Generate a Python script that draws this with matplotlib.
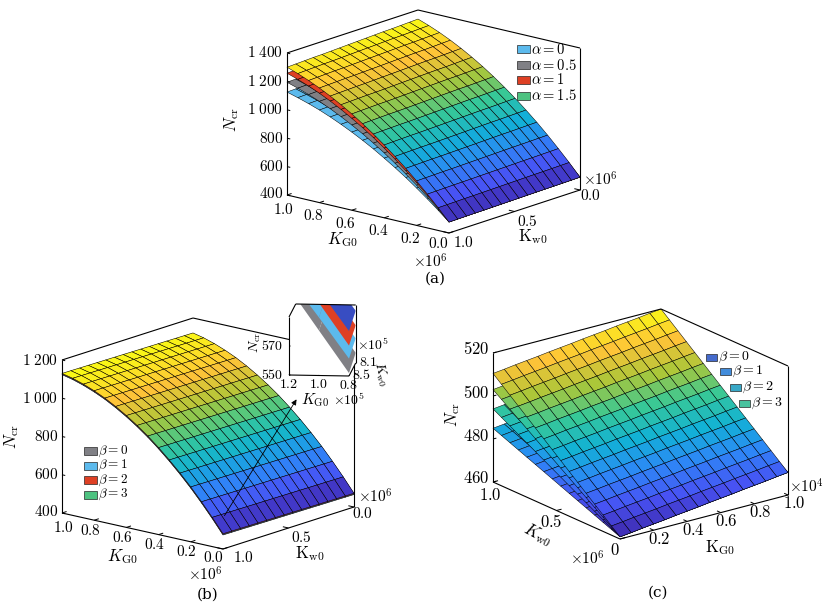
import numpy as np
import matplotlib
matplotlib.use("Agg")
import matplotlib.pyplot as plt
from matplotlib.colors import LinearSegmentedColormap, Normalize
from matplotlib.patches import Rectangle, FancyArrowPatch, Polygon
from matplotlib.path import Path
from matplotlib.transforms import IdentityTransform

plt.rcParams["mathtext.fontset"] = "cm"
plt.rcParams["font.family"] = ["DejaVu Serif"]

W, H = 827, 607

# ============================ DATA ============================
# ---- panel (a): K_G0 (x1e6), K_w0 (x1e6), four alpha values ----
kg_a = np.linspace(0.0, 1.0, 16)
kw_a = np.linspace(0.0, 1.0, 16)
alpha_labels = ["0", "0.5", "1", "1.5"]
# N_cr along K_G0 (0 ... 1) at K_w0 = 1
ncr_a_alpha0 = [477, 542, 604, 663, 719, 771, 820, 867, 910, 950, 987, 1021, 1052, 1079, 1103, 1125]
ncr_a_alpha05 = [477, 549, 617, 683, 744, 802, 857, 908, 956, 1000, 1041, 1079, 1113, 1143, 1170, 1194]
ncr_a_alpha1 = [477, 556, 630, 701, 768, 831, 891, 947, 999, 1047, 1092, 1133, 1170, 1203, 1232, 1258]
ncr_a_alpha15 = [477, 560, 638, 713, 784, 850, 913, 972, 1027, 1078, 1125, 1168, 1207, 1242, 1273, 1300]
# relative change of N_cr along K_w0 (0 ... 1)
kw_factor_a = [1.028, 1.026, 1.024, 1.022, 1.021, 1.019, 1.017, 1.015,
               1.013, 1.011, 1.009, 1.007, 1.006, 1.004, 1.002, 1.000]

# ---- panel (b): K_G0 (x1e6), K_w0 (x1e6), four beta values ----
kg_b = np.linspace(0.0, 1.0, 16)
kw_b = np.linspace(0.0, 1.0, 16)
beta_labels = ["0", "1", "2", "3"]
# N_cr along K_G0 (0 ... 1) at K_w0 = 0, beta = 3
ncr_b_beta3 = [472, 545, 614, 679, 739, 795, 847, 895, 938, 977, 1012, 1043, 1069, 1091, 1109, 1122]
# change of N_cr along K_w0 (0 ... 1)
kw_shift_b = [0, 0.5, 1.1, 1.6, 2.1, 2.7, 3.2, 3.7, 4.3, 4.8, 5.3, 5.9, 6.4, 6.9, 7.5, 8.0]
# offset of beta = 0, 1, 2, 3 surfaces relative to beta = 3
beta_gap_b = [-7, -5, -2.5, 0]
# inset of (b): K_G0 (x1e5), K_w0 (x1e5)
kg_inset = [0.8, 1.0, 1.2]
kw_inset = [8.1, 8.5]
ncr_inset_beta0 = [552, 581, 610]   # at K_w0 = 8.5e5
ncr_inset_beta1 = [562, 590, 617]
ncr_inset_beta2 = [571, 600, 628]
ncr_inset_beta3 = [581, 609, 636]
kw_shift_inset = [5, 0]             # change along K_w0 (8.1e5, 8.5e5)

# ---- panel (c): K_G0 (x1e4), K_w0 (x1e6), four beta values ----
kg_c = np.linspace(0.0, 1.0, 16)
kw_c = np.linspace(0.0, 1.0, 16)
# N_cr along K_w0 (0 ... 1) at K_G0 = 0
ncr_c_beta0 = [461, 462.6, 464.2, 465.8, 467.4, 469, 470.6, 472.2, 473.8, 475.4, 477, 478.6, 480.2, 481.8, 483.4, 485]
ncr_c_beta1 = [461, 463.2, 465.4, 467.6, 469.8, 472, 474.2, 476.4, 478.6, 480.8, 483, 485.2, 487.4, 489.6, 491.8, 494]
ncr_c_beta2 = [461, 463.8, 466.6, 469.4, 472.2, 475, 477.8, 480.6, 483.4, 486.2, 489, 491.8, 494.6, 497.4, 500.2, 503]
ncr_c_beta3 = [461, 464.3, 467.6, 470.9, 474.2, 477.5, 480.8, 484.1, 487.4, 490.7, 494, 497.3, 500.6, 503.9, 507.2, 510.5]
# increase of N_cr along K_G0 (0 ... 1)
kg_shift_c = [0, 0.6, 1.3, 1.9, 2.5, 3.2, 3.8, 4.4, 5.1, 5.7, 6.3, 7.0, 7.6, 8.2, 8.9, 9.5]

# ticks
ticks_k = [0.0, 0.2, 0.4, 0.6, 0.8, 1.0]
ticks_kw = [0.0, 0.5, 1.0]
ticks_z_a = [400, 600, 800, 1000, 1200, 1400]
ticks_z_b = [400, 600, 800, 1000, 1200]
ticks_z_c = [460, 480, 500, 520]
ticks_kg_c = [0.2, 0.4, 0.6, 0.8, 1.0]
ticks_z_in = [550, 570]

# ============================ STYLE ============================
PARULA = LinearSegmentedColormap.from_list("parula", [
    (0.2422, 0.1504, 0.6603), (0.2810, 0.3228, 0.9579), (0.1786, 0.5289, 0.9682),
    (0.0689, 0.6948, 0.8394), (0.2161, 0.7843, 0.5923), (0.6720, 0.7793, 0.2227),
    (0.9970, 0.7659, 0.2199), (0.9769, 0.9839, 0.0805)])
C_LBLUE = (0.36, 0.73, 0.93)
C_GRAY = (0.50, 0.50, 0.52)
C_RED = (0.87, 0.25, 0.14)
C_GREEN = (0.30, 0.76, 0.50)
C_DBLUE = (0.22, 0.30, 0.76)

fig = plt.figure(figsize=(W / 100, H / 100), dpi=100)


def solve_view(dx, dy, hz):
    """view angles / box aspect from image-pixel vectors of the +x and +y box edges"""
    dxr, dxu = dx[0], -dx[1]
    dyr, dyu = dy[0], -dy[1]
    A = -dyu / dyr
    B = dxr / dxu
    t = np.sign(B) * np.sqrt(A * B)
    se = A / t
    elev = np.degrees(np.arcsin(se))
    at = abs(t)
    s = np.sign(-dxr) * at / np.sqrt(1 + at ** 2)
    c = np.sign(dyr) / np.sqrt(1 + at ** 2)
    azim = np.degrees(np.arctan2(s, c))
    return elev, azim, (-dxr / s, dyr / c, hz / np.cos(np.radians(elev)))


def make_ax(view, xlim, ylim, zlim):
    elev, azim, aspect = view
    ax = fig.add_axes([0.3, 0.3, 0.4, 0.4 * W / H], projection="3d", computed_zorder=False)
    ax.set_proj_type("ortho")
    ax.view_init(elev=elev, azim=azim)
    ax.set_box_aspect(aspect)
    ax.set_xlim(xlim)
    ax.set_ylim(ylim)
    ax.set_zlim(zlim)
    ax.set_axis_off()
    ax.patch.set_visible(False)
    return ax


def to_disp(ax, x, y, z):
    M = ax.get_proj()
    v = M @ np.array([x, y, z, 1.0])
    return ax.transData.transform((v[0] / v[3], v[1] / v[3]))


def fit(ax, pts3d, pix):
    bb = ax.bbox
    cx0, cy0, s0 = (bb.x0 + bb.x1) / 2, (bb.y0 + bb.y1) / 2, bb.width
    Am, bm = [], []
    for p, (px, py) in zip(pts3d, pix):
        d = to_disp(ax, *p)
        qx, qy = (d[0] - cx0) / s0, (d[1] - cy0) / s0
        Am.append([1, 0, qx]); bm.append(px)
        Am.append([0, 1, qy]); bm.append(H - py)
    cx, cy, s = np.linalg.lstsq(np.array(Am), np.array(bm), rcond=None)[0]
    ax.set_position([(cx - s / 2) / W, (cy - s / 2) / H, s / W, s / H])


def surf(ax, X, Y, Z, color=None, norm=None, lw=0.35, ec="k"):
    kw = dict(rstride=1, cstride=1, shade=False, linewidth=lw, edgecolor=ec, antialiased=True)
    if color is None:
        return ax.plot_surface(X, Y, Z, cmap=PARULA, norm=norm, **kw)
    return ax.plot_surface(X, Y, Z, color=color, **kw)


def line3(ax, a, b, lw=0.8):
    ax.plot([a[0], b[0]], [a[1], b[1]], [a[2], b[2]], color="k", lw=lw, zorder=10,
            solid_capstyle="butt")


def ftext(px, py, s, size=11, **kw):
    fig.text(px / W, 1 - py / H, s, fontsize=size, **kw)


def dtext(d, off, s, size=11, **kw):
    fig.text((d[0] + off[0]) / W, (d[1] - off[1]) / H, s, fontsize=size, **kw)


# ---------------- panel targets (image pixels of box corners) ----------------
pix_a = [(287, 195), (449, 233), (580, 190), (287, 53)]
pix_b = [(62, 513), (223, 549), (354, 507), (62, 360)]
pix_c = [(493, 482), (620, 539), (788, 495), (493, 353)]
pix_i = [(289, 375), (349, 376), (355.7, 363), (289, 317)]

def vec(p, q):
    return (p[0] - q[0], p[1] - q[1])

view_a = solve_view(vec(pix_a[0], pix_a[1]), vec(pix_a[1], pix_a[2]), pix_a[0][1] - pix_a[3][1])
view_b = solve_view(vec(pix_b[0], pix_b[1]), vec(pix_b[1], pix_b[2]), pix_b[0][1] - pix_b[3][1])
view_c = solve_view(vec(pix_c[2], pix_c[1]), vec(pix_c[0], pix_c[1]), pix_c[0][1] - pix_c[3][1])
view_i = solve_view(vec(pix_i[0], pix_i[1]), vec(pix_i[1], pix_i[2]), pix_i[0][1] - pix_i[3][1])

za, zb, zc, zi = (400, 1400), (400, 1200), (460, 520), (550, 590)
ax_a = make_ax(view_a, (0, 1), (0, 1), za)
ax_b = make_ax(view_b, (0, 1), (0, 1), zb)
ax_c = make_ax(view_c, (0, 1), (0, 1), zc)
ax_i = make_ax(view_i, (0.8, 1.2), (8.1, 8.5), zi)
ax_i.set_zorder(2)

# ---------------- surfaces ----------------
KGa, KWa = np.meshgrid(kg_a, kw_a)
Za = [np.outer(kw_factor_a, p) for p in (ncr_a_alpha0, ncr_a_alpha05, ncr_a_alpha1, ncr_a_alpha15)]
norm_a = Normalize(min(z.min() for z in Za), max(z.max() for z in Za))
surf(ax_a, KGa, KWa, Za[0], color=C_LBLUE)
surf(ax_a, KGa, KWa, Za[1], color=C_GRAY)
surf(ax_a, KGa, KWa, Za[2], color=C_RED)
surf(ax_a, KGa, KWa, Za[3], norm=norm_a)

KGb, KWb = np.meshgrid(kg_b, kw_b)
Zb = [np.add.outer(kw_shift_b, ncr_b_beta3) + g for g in beta_gap_b]
norm_b = Normalize(Zb[3].min(), Zb[3].max())
surf(ax_b, KGb, KWb, Zb[0], color=C_GRAY, lw=0.3)
surf(ax_b, KGb, KWb, Zb[1], color=C_LBLUE, lw=0.3)
surf(ax_b, KGb, KWb, Zb[2], color=C_RED, lw=0.3)
surf(ax_b, KGb, KWb, Zb[3], norm=norm_b)

KGi, KWi = np.meshgrid(kg_inset, kw_inset)
inset_colls = []
for vals, col in ((ncr_inset_beta0, C_GRAY), (ncr_inset_beta1, C_LBLUE),
                  (ncr_inset_beta2, C_RED), (ncr_inset_beta3, C_DBLUE)):
    Zi = np.add.outer(kw_shift_inset, vals)
    inset_colls.append(surf(ax_i, KGi, KWi, Zi, color=col, lw=0, ec="none"))

KGc, KWc = np.meshgrid(kg_c, kw_c)
Zc = [np.add.outer(p, kg_shift_c) for p in (ncr_c_beta0, ncr_c_beta1, ncr_c_beta2, ncr_c_beta3)]
norm_c = Normalize(min(z.min() for z in Zc), max(z.max() for z in Zc))
for z in Zc:
    surf(ax_c, KGc, KWc, z, norm=norm_c)

# ---------------- frames and tick marks (3D) ----------------
def frame_ab(ax, zl, zt):
    z0, z1 = zl
    line3(ax, (1, 1, z0), (0, 1, z0)); line3(ax, (0, 1, z0), (0, 0, z0))
    line3(ax, (1, 1, z0), (1, 1, z1)); line3(ax, (0, 0, z0), (0, 0, z1))
    line3(ax, (1, 1, z1), (1, 0, z1)); line3(ax, (1, 0, z1), (0, 0, z1))
    for t in ticks_k:
        line3(ax, (t, 1, z0), (t, 0.965, z0), lw=0.7)
    for t in ticks_kw:
        line3(ax, (0, t, z0), (0.035, t, z0), lw=0.7)
    for z in zt:
        line3(ax, (1, 1, z), (0.98, 1, z), lw=0.7)

frame_ab(ax_a, za, ticks_z_a)
frame_ab(ax_b, zb, ticks_z_b)

z0, z1 = zc
line3(ax_c, (0, 1, z0), (0, 0, z0)); line3(ax_c, (0, 0, z0), (1, 0, z0))
line3(ax_c, (0, 1, z0), (0, 1, z1)); line3(ax_c, (1, 0, z0), (1, 0, z1))
line3(ax_c, (0, 1, z1), (1, 1, z1)); line3(ax_c, (1, 1, z1), (1, 0, z1))
for t in ticks_kw:
    line3(ax_c, (0, t, z0), (0.03, t, z0), lw=0.7)
for t in ticks_kg_c:
    line3(ax_c, (t, 0, z0), (t, 0.03, z0), lw=0.7)
for z in ticks_z_c:
    line3(ax_c, (0, 1, z), (0.02, 1, z), lw=0.7)

z0, z1 = zi
line3(ax_i, (1.2, 8.5, z0), (0.8, 8.5, z0)); line3(ax_i, (0.8, 8.5, z0), (0.8, 8.1, z0))
line3(ax_i, (1.2, 8.5, z0), (1.2, 8.5, z1)); line3(ax_i, (0.8, 8.1, z0), (0.8, 8.1, z1))
line3(ax_i, (1.2, 8.5, z1), (1.2, 8.1, z1)); line3(ax_i, (1.2, 8.1, z1), (0.8, 8.1, z1))
for t in kg_inset:
    line3(ax_i, (t, 8.5, z0), (t, 8.485, z0), lw=0.7)
for z in ticks_z_in:
    line3(ax_i, (1.2, 8.5, z), (1.19, 8.5, z), lw=0.7)

# ---------------- fit layout ----------------
fig.canvas.draw()
fit(ax_a, [(1, 1, 400), (0, 1, 400), (0, 0, 400), (1, 1, 1400)], pix_a)
fit(ax_b, [(1, 1, 400), (0, 1, 400), (0, 0, 400), (1, 1, 1200)], pix_b)
fit(ax_c, [(0, 1, 460), (0, 0, 460), (1, 0, 460), (0, 1, 520)], pix_c)
fit(ax_i, [(1.2, 8.5, 550), (0.8, 8.5, 550), (0.8, 8.1, 550), (1.2, 8.5, 590)], pix_i)
fig.canvas.draw()

# inset background and clipping
hexa = [to_disp(ax_i, *p) for p in [(1.2, 8.5, 550), (0.8, 8.5, 550), (0.8, 8.1, 550),
                                    (0.8, 8.1, 590), (1.2, 8.1, 590), (1.2, 8.5, 590)]]
hexa = np.array(hexa)
for c in inset_colls:
    c.set_clip_path(Path(np.vstack([hexa, hexa[:1]]), closed=True), IdentityTransform())
fig.add_artist(Polygon(hexa / [W, H], closed=True, transform=fig.transFigure,
                       facecolor="white", edgecolor="none", zorder=1.5))

# ---------------- tick labels ----------------
def zfmt(v):
    return r"$%d\;%03d$" % (v // 1000, v % 1000) if v >= 1000 else r"$%d$" % v

lab_off = {
    "a": ({0.0: (-11, 11), 1.0: (-4, 15)}, (-6, 13), {1.0: (14, 10), 0.0: (10, 6)}, (13, 10)),
    "b": ({0.0: (-10, 8), 1.0: (1, 14)}, (-4, 10), {1.0: (20, 8), 0.0: (8, 6)}, (13, 9)),
}
for key, ax, zt in (("a", ax_a, ticks_z_a), ("b", ax_b, ticks_z_b)):
    spk, dk, spw, dw = lab_off[key]
    for t in ticks_k:
        dtext(to_disp(ax, t, 1, 400), spk.get(t, dk), r"$%.1f$" % t, ha="center", va="center")
    for t in ticks_kw:
        dtext(to_disp(ax, 0, t, 400), spw.get(t, dw), r"$%.1f$" % t, ha="center", va="center")
    for z in zt:
        dtext(to_disp(ax, 1, 1, z), (-4, -1 if z == 400 else 0), zfmt(z), ha="right", va="center")

for t in ticks_kw:
    dtext(to_disp(ax_c, 0, t, 460), (-3, 14) if t == 1.0 else (-5, 12),
          r"$%s$" % ("0" if t == 0 else "%.1f" % t), ha="center", va="center", size=12)
for t in ticks_kg_c:
    dtext(to_disp(ax_c, t, 0, 460), (6, 9), r"$%.1f$" % t, ha="center", va="center", size=12)
for z in ticks_z_c:
    dtext(to_disp(ax_c, 0, 1, z), (-4, -3), r"$%d$" % z, ha="right", va="center", size=12)

for t in kg_inset:
    dtext(to_disp(ax_i, t, 8.5, 550), (0, 9), r"$%.1f$" % t, ha="center", va="center", size=10)
for t in kw_inset:
    dtext(to_disp(ax_i, 0.8, t, 550), (3, -1), r"$%.1f$" % t, ha="left", va="center", size=10)
for z in ticks_z_in:
    dtext(to_disp(ax_i, 1.2, 8.5, z), (-6, 0), r"$%d$" % z, ha="right", va="center", size=10)

# ---------------- axis labels / multipliers ----------------
ftext(232, 120, r"$N_{\rm cr}$", size=12, rotation=90, ha="center", va="center")
ftext(342, 240, r"$K_{\rm G0}$", size=12, ha="center", va="center")
ftext(430, 262, r"$\times10^{6}$", ha="center", va="center")
ftext(533, 237, r"$\mathrm{K}_{\rm w0}$", size=12, ha="center", va="center")
ftext(600, 180, r"$\times10^{6}$", ha="center", va="center")
ftext(435, 279, "(a)", size=11, ha="center", va="center")

ftext(12, 437, r"$N_{\rm cr}$", size=12, rotation=90, ha="center", va="center")
ftext(122, 557, r"$K_{\rm G0}$", size=12, ha="center", va="center")
ftext(205, 575, r"$\times10^{6}$", ha="center", va="center")
ftext(310, 554, r"$\mathrm{K}_{\rm w0}$", size=12, ha="center", va="center")
ftext(375, 497, r"$\times10^{6}$", ha="center", va="center")
ftext(208, 595, "(b)", size=11, ha="center", va="center")

ftext(255, 343, r"$N_{\rm cr}$", size=10, rotation=90, ha="center", va="center")
ftext(315, 400, r"$K_{\rm G0}$", size=11, ha="center", va="center")
ftext(349, 400, r"$\times10^{5}$", size=10, ha="center", va="center")
ftext(381, 374, r"$K_{\rm w0}$", size=10, rotation=-75, ha="center", va="center")
ftext(373, 345, r"$\times10^{5}$", size=10, ha="center", va="center")

ftext(453, 415, r"$N_{\rm cr}$", size=12, rotation=90, ha="center", va="center")
ftext(538, 535, r"$K_{\rm w0}$", size=12, rotation=-28, ha="center", va="center")
ftext(587, 559, r"$\times10^{6}$", ha="center", va="center")
ftext(720, 548, r"$\mathrm{K}_{\rm G0}$", size=12, ha="center", va="center")
ftext(806, 487, r"$\times10^{4}$", ha="center", va="center")
ftext(658, 593, "(c)", size=11, ha="center", va="center")

# arrow from surface to the inset
fig.add_artist(FancyArrowPatch((223 / W, 1 - 518 / H), (298 / W, 1 - 397 / H),
                               transform=fig.transFigure, arrowstyle="-|>",
                               mutation_scale=8, lw=0.6, color="k", zorder=2.5))

# ---------------- legends ----------------
def legend_item(px, py, color, label, w=13, h=8, size=10):
    fig.add_artist(Rectangle(((px - w / 2) / W, 1 - (py + h / 2) / H), w / W, h / H,
                             transform=fig.transFigure, facecolor=color,
                             edgecolor=(0.15, 0.15, 0.15), lw=0.5, zorder=3))
    ftext(px + w / 2 + 1, py, label, size=size, ha="left", va="center")

for py, col, lab in zip((49, 65, 80, 96), (C_LBLUE, C_GRAY, C_RED, C_GREEN), alpha_labels):
    legend_item(523.5, py, col, r"$\alpha=%s$" % lab, size=10.5)
for py, col, lab in zip((451, 465.5, 480, 494.5), (C_GRAY, C_LBLUE, C_RED, C_GREEN), beta_labels):
    legend_item(90, py, col, r"$\beta=%s$" % lab, size=9.5)
leg_c_cols = [(0.27, 0.42, 0.80), (0.26, 0.55, 0.86), (0.22, 0.66, 0.78), (0.28, 0.76, 0.62)]
for (px, py), col, lab in zip(((711.5, 357), (725.5, 371.5), (735.5, 387.5), (744.5, 403)),
                              leg_c_cols, beta_labels):
    legend_item(px, py, col, r"$\beta=%s$" % lab, w=11, h=7, size=10)

fig.savefig("out.png", dpi=100)
